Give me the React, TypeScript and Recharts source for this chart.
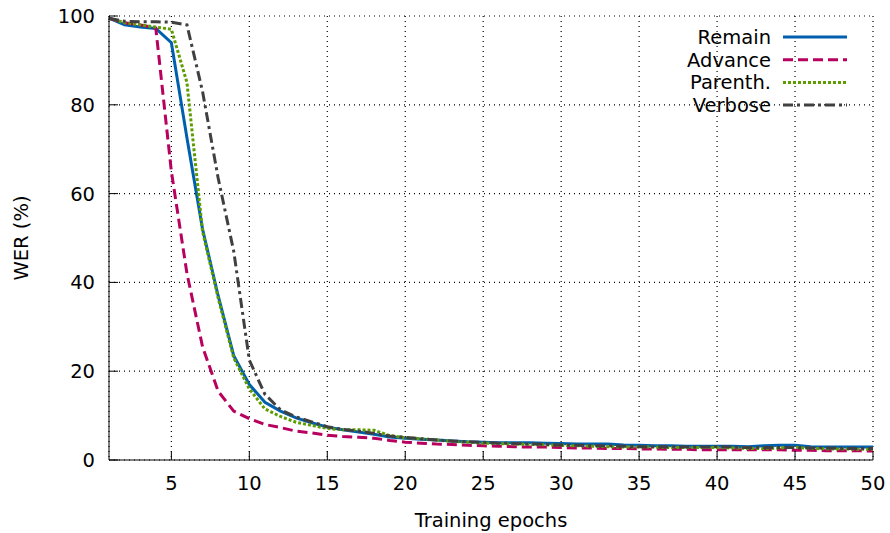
import React from 'react';
import { LineChart, Line, XAxis, YAxis, CartesianGrid, Legend } from 'recharts';

const epochs = Array.from({ length: 50 }, (_, i) => i + 1);

const remain = [99.5, 98, 97.5, 97.2, 94, 72.5, 52, 37, 23.5, 17, 13, 11, 9.5, 8.4, 7.4, 6.8, 6.3, 5.8, 5.2, 4.9, 4.7, 4.5, 4.3, 4.1, 4.0, 3.9, 3.9, 3.9, 3.8, 3.7, 3.6, 3.6, 3.6, 3.4, 3.3, 3.2, 3.2, 3.1, 3.1, 3.1, 3.1, 3.0, 3.2, 3.3, 3.3, 3.0, 2.9, 2.9, 2.9, 2.9];
const advance = [99.5, 98.5, 98, 97.3, 65, 42, 25.5, 15.5, 11, 9.3, 8, 7.3, 6.5, 6.1, 5.6, 5.3, 5.1, 4.9, 4.4, 4.0, 3.8, 3.6, 3.5, 3.3, 3.2, 3.1, 3.0, 2.9, 2.9, 2.8, 2.7, 2.7, 2.6, 2.6, 2.5, 2.5, 2.4, 2.4, 2.3, 2.3, 2.3, 2.3, 2.3, 2.3, 2.2, 2.2, 2.1, 2.1, 2.1, 2.0];
const parenth = [99.5, 98.5, 98, 97.5, 97, 85, 51.5, 36.5, 23, 16, 11.5, 9.8, 8.5, 7.8, 7.1, 6.8, 6.8, 6.7, 5.5, 5.0, 4.8, 4.5, 4.2, 4.0, 3.8, 3.7, 3.6, 3.5, 3.4, 3.3, 3.2, 3.1, 3.0, 2.9, 2.9, 2.9, 2.8, 2.8, 2.8, 2.8, 2.7, 2.6, 2.6, 2.7, 2.9, 2.6, 2.5, 2.5, 2.4, 2.4];
const verbose = [99.5, 98.8, 98.7, 98.7, 98.6, 98, 83, 63.5, 47, 22.5, 14.8, 11.3, 9.7, 8.6, 7.5, 6.9, 6.5, 6.0, 5.4, 5.1, 4.8, 4.5, 4.3, 4.1, 4.0, 3.8, 3.7, 3.6, 3.5, 3.4, 3.3, 3.2, 3.2, 3.1, 3.0, 3.0, 3.0, 2.9, 2.9, 3.0, 2.9, 2.8, 2.8, 2.8, 2.8, 2.7, 2.7, 2.6, 2.6, 2.6];

const xTicks = [5, 10, 15, 20, 25, 30, 35, 40, 45, 50];
const yTicks = [0, 20, 40, 60, 80, 100];

const series = [
  { key: 'remain', name: 'Remain', color: '#0060ad', dash: undefined as string | undefined, width: 3 },
  { key: 'advance', name: 'Advance', color: '#b8005e', dash: '10 5', width: 3 },
  { key: 'parenth', name: 'Parenth.', color: '#5e9c00', dash: '3 2', width: 3 },
  { key: 'verbose', name: 'Verbose', color: '#404040', dash: '10 4 3 4', width: 3 },
];

const data = epochs.map((e, i) => ({
  epoch: e,
  remain: remain[i],
  advance: advance[i],
  parenth: parenth[i],
  verbose: verbose[i],
}));

const FONT = 'DejaVu Sans, sans-serif';
const FS = 19.5;
const TL = 9;

const BottomTick = (props: any) => {
  const { x, y, payload } = props;
  return (
    <g>
      <line x1={x} y1={y} x2={x} y2={y - TL} stroke="#000" strokeWidth={1} />
      <text x={x} y={y + 30} textAnchor="middle" fontSize={FS} fontFamily={FONT} fill="#000">{payload.value}</text>
    </g>
  );
};
const TopTick = (props: any) => {
  const { x, y } = props;
  return <line x1={x} y1={y} x2={x} y2={y + TL} stroke="#000" strokeWidth={1} />;
};
const LeftTick = (props: any) => {
  const { x, y, payload } = props;
  return (
    <g>
      <line x1={x} y1={y} x2={x + TL} y2={y} stroke="#000" strokeWidth={1} />
      <text x={x - 14} y={y + 7} textAnchor="end" fontSize={FS} fontFamily={FONT} fill="#000">{payload.value}</text>
    </g>
  );
};
const RightTick = (props: any) => {
  const { x, y } = props;
  return <line x1={x} y1={y} x2={x - TL} y2={y} stroke="#000" strokeWidth={1} />;
};

const LegendContent = () => (
  <svg width={260} height={110} style={{ display: 'block' }}>
    {series.map((s, i) => {
      const cy = 12 + i * 22.7;
      return (
        <g key={s.key}>
          <text x={161} y={cy + 7} textAnchor="end" fontSize={FS} fontFamily={FONT} fill="#000">{s.name}</text>
          <line x1={173} y1={cy} x2={237} y2={cy} stroke={s.color} strokeWidth={s.width} strokeDasharray={s.dash} />
        </g>
      );
    })}
  </svg>
);

export default function App() {
  return (
    <div style={{ position: 'absolute', left: 0, top: 0, width: 890, height: 533, background: '#fff' }}>
      <LineChart width={890} height={533} data={data} margin={{ top: 16, right: 17, bottom: 43, left: 49 }}>
        <CartesianGrid stroke="#000" strokeDasharray="1 4" strokeWidth={1.2} />
        <XAxis
          dataKey="epoch"
          type="number"
          domain={[1, 50]}
          ticks={xTicks}
          interval={0}
          height={30}
          tickSize={0}
          tickMargin={0}
          tickLine={false}
          axisLine={{ stroke: '#000', strokeWidth: 1 }}
          tick={<BottomTick />}
          label={{ value: 'Training epochs', position: 'insideBottom', offset: -37, fontSize: FS, fontFamily: FONT, fill: '#000' }}
        />
        <XAxis
          xAxisId="top"
          orientation="top"
          type="number"
          domain={[1, 50]}
          ticks={xTicks}
          interval={0}
          height={0}
          tickSize={0}
          tickMargin={0}
          tickLine={false}
          axisLine={{ stroke: '#000', strokeWidth: 1 }}
          tick={<TopTick />}
        />
        <YAxis
          type="number"
          domain={[0, 100]}
          ticks={yTicks}
          interval={0}
          width={60}
          tickSize={0}
          tickMargin={0}
          tickLine={false}
          axisLine={{ stroke: '#000', strokeWidth: 1 }}
          tick={<LeftTick />}
          label={{ value: 'WER (%)', angle: -90, position: 'insideLeft', offset: -28, fontSize: FS, fontFamily: FONT, fill: '#000', style: { textAnchor: 'middle' } }}
        />
        <YAxis
          yAxisId="right"
          orientation="right"
          type="number"
          domain={[0, 100]}
          ticks={yTicks}
          interval={0}
          width={0}
          tickSize={0}
          tickMargin={0}
          tickLine={false}
          axisLine={{ stroke: '#000', strokeWidth: 1 }}
          tick={<RightTick />}
        />
        {series.map((s) => (
          <Line
            key={s.key}
            dataKey={s.key}
            name={s.name}
            type="linear"
            stroke={s.color}
            strokeWidth={s.width}
            strokeDasharray={s.dash}
            dot={false}
            activeDot={false}
            isAnimationActive={false}
          />
        ))}
        <Legend
          layout="vertical"
          align="center"
          verticalAlign="middle"
          content={<LegendContent />}
          wrapperStyle={{ position: 'absolute', left: 610, top: 25, width: 260, height: 110 }}
        />
      </LineChart>
    </div>
  );
}
